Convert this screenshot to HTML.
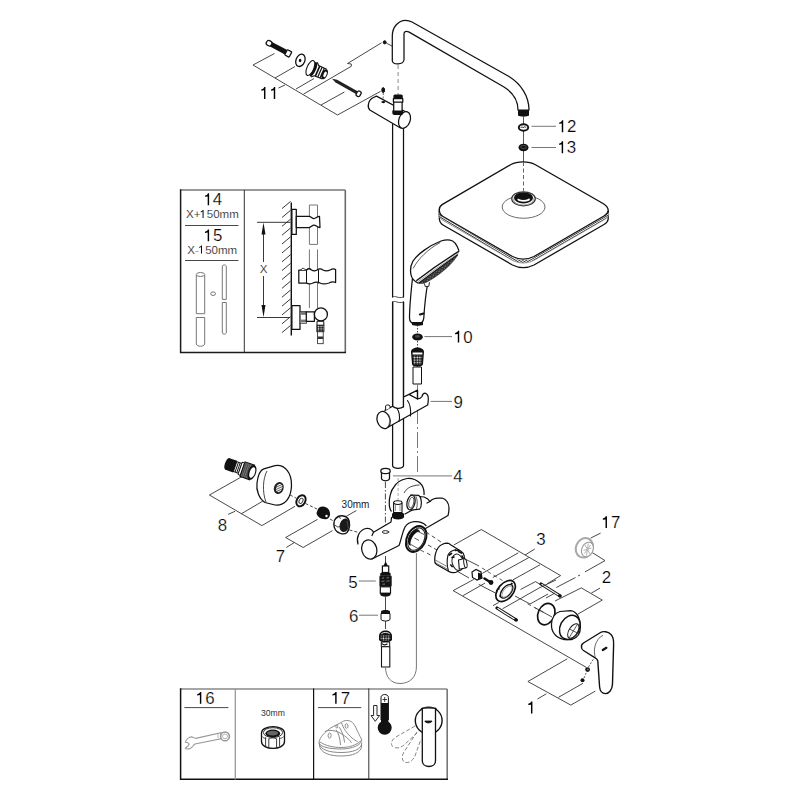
<!DOCTYPE html>
<html><head><meta charset="utf-8"><style>
html,body{margin:0;padding:0;background:#fff;width:800px;height:800px;overflow:hidden}
svg{display:block}
text{font-family:"Liberation Sans",sans-serif;fill:#000;stroke:#fff;stroke-width:0.22px}
.k{fill:none;stroke:#111;stroke-width:1.25;stroke-linejoin:round;stroke-linecap:round}
.kw{fill:#fff;stroke:#111;stroke-width:1.25;stroke-linejoin:round}
.t{fill:none;stroke:#333;stroke-width:0.9}
.g{fill:none;stroke:#777;stroke-width:1}
.gw{fill:#fff;stroke:#888;stroke-width:1}
.d{fill:none;stroke:#666;stroke-width:1;stroke-dasharray:4 3}
.blk{fill:#111;stroke:#111;stroke-width:1}
.lbl{font-size:16.9px}
</style></head><body>
<svg width="800" height="800" viewBox="0 0 800 800">
<defs>
<pattern id="knurl" width="2.6" height="2.6" patternUnits="userSpaceOnUse"><rect width="2.6" height="2.6" fill="#111"/><circle cx="1.3" cy="1.3" r="0.85" fill="#fff"/></pattern>
<pattern id="hatch2" width="2" height="2" patternUnits="userSpaceOnUse" patternTransform="rotate(45)"><rect width="2" height="2" fill="#fff"/><rect width="0.9" height="2" fill="#555"/></pattern>
<pattern id="nozz" width="2.4" height="2.4" patternUnits="userSpaceOnUse" patternTransform="rotate(30)"><rect width="2.4" height="2.4" fill="#1a1a1a"/><circle cx="1.2" cy="1.2" r="0.55" fill="#fff"/></pattern>
<pattern id="hatchB" width="1.7" height="1.7" patternUnits="userSpaceOnUse" patternTransform="rotate(60)"><rect width="1.7" height="1.7" fill="#fff"/><rect width="0.85" height="1.7" fill="#333"/></pattern>
<pattern id="nozz2" width="2.4" height="2.4" patternUnits="userSpaceOnUse" patternTransform="rotate(35)"><rect width="2.4" height="2.4" fill="#fff"/><path d="M0.2,0.2 L2.2,2.2 M2.2,0.2 L0.2,2.2" stroke="#111" stroke-width="1.05"/></pattern>
</defs>
<!-- ===== item 11 brackets ===== -->
<g id="i11">
<path class="t" d="M253,65 L274.5,53.5 M253,65 L337.5,115 L380.6,91.3 M275,78 L295,66.5 M296,89 L314,78.5 M321,105 L344.4,92 M278.5,88 L285,85"/>
<path class="t" d="M303.5,94.1 L351.3,66.3 L351.3,64 L347.5,63.5 L381.5,42.8"/>
<path class="t" d="M386.3,43.1 L392.5,46.3"/>
<ellipse class="blk" cx="384.7" cy="42.3" rx="1.4" ry="1.6"/>
<!-- screw 1 -->
<g transform="translate(279,48.5) rotate(28)">
<rect x="-12" y="-2.5" width="20" height="5" fill="#111"/>
<rect x="-14" y="-2.5" width="5.5" height="5" rx="2" class="kw"/>
<rect x="8" y="-3" width="5" height="6" rx="0.8" class="kw"/>
</g>
<!-- washer -->
<ellipse cx="300.4" cy="60.3" rx="4.4" ry="6.4" transform="rotate(22 300.4 60.3)" class="kw" style="stroke-width:1.3"/>
<ellipse cx="300.1" cy="60.5" rx="1.3" ry="1.8" fill="#111"/>
<!-- fitting -->
<g transform="translate(310.4,68) rotate(23.6)">
<path d="M0,-8 L4,-8 L6,-5.5 L15.5,-5.3 L15.5,5.3 L6,5.5 L4,8 L0,8 Z" fill="#fff"/>
<path d="M4,-8 L6.5,-5.6 L15.5,-5.3 M4,8 L6.5,5.6 L15.5,5.3" fill="none" stroke="#111" stroke-width="1.1"/>
<ellipse cx="3.2" cy="0" rx="2.6" ry="7.8" fill="#111"/>
<ellipse cx="0" cy="0" rx="3.4" ry="8" fill="#fff" stroke="#111" stroke-width="1.1"/>
<rect x="7" y="-5.5" width="1.6" height="11" fill="#111"/>
<rect x="9.8" y="-5.4" width="1.2" height="10.8" fill="#111"/>
<rect x="12.2" y="-5.4" width="1.2" height="10.8" fill="#111"/>
<ellipse cx="15.5" cy="0" rx="2.9" ry="5.3" fill="#111"/>
<ellipse cx="16" cy="0" rx="1.4" ry="3" fill="#fff"/>
</g>
<!-- long screw -->
<g transform="translate(332,78.7) rotate(29.5)">
<path d="M0,0 L5,-1.6 L29,-1.6 L29,1.6 L5,1.6 Z" fill="#222"/>
<rect x="28.5" y="-2.8" width="4.2" height="5.6" rx="1.8" class="kw"/>
</g>
<!-- dot + bracket screw -->
<ellipse class="blk" cx="383.2" cy="90.1" rx="1.4" ry="2.5"/>
<path class="d" d="M383.2,93 V99.5" style="stroke-dasharray:2 1.5"/>
<text class="lbl" x="261" y="99"><tspan style="fill:none;stroke:none">1</tspan><tspan style="fill:none;stroke:none">1</tspan></text><path d="M263.98,99.00 265.42,99.00 265.42,87.09 264.24,87.09 263.47,88.44 261.28,89.45 261.28,90.63 263.98,90.30 Z" fill="#000"/><path d="M273.78,99.00 275.22,99.00 275.22,87.09 274.04,87.09 273.27,88.44 271.08,89.45 271.08,90.63 273.78,90.30 Z" fill="#000"/>
</g>

<!-- ===== gooseneck ===== -->
<g id="goose">
<path class="kw" d="M392.3,61 V36 C392.3,27 398.5,20.3 405.5,20.3 C408,20.3 410,20.9 412,22 L509,76.5 C521,84 529,96 529,110 L518,110 C518,100 512,92 504,87 L408.7,31.9 C406,31 404,31.5 404,34 V60 C403,65 393,65 392.3,61 Z"/>
<path d="M518,110 H529 V115.5 C527,117 520,117 518,115.5 Z" fill="#111"/>
<path class="d" d="M398.1,65 V95" style="stroke:#888"/>
<path d="M523.5,116.5 V162" stroke="#444" stroke-width="0.9"/>
</g>

<!-- ===== rail ===== -->
<g id="rail">
<path class="k" d="M392.6,124 V297 M403.5,128 V297 M392.6,302 V466 C394,469 402,469 403.5,466 V302"/>
<path class="t" d="M392.6,297 C395,295 398,299 403.5,297 M392.6,302 C395,300 398,304 403.5,302"/>
</g>

<!-- ===== bracket cylinder ===== -->
<g id="brk">
<path class="kw" d="M376.5,96.1 L406.5,112.3 L400.5,128 L369.8,110 C367,107 368,100 373.5,97.5 Z"/>
<ellipse cx="404.5" cy="120" rx="5.6" ry="8.6" transform="rotate(20 404.5 120)" class="kw"/>
<ellipse cx="383.3" cy="102.1" rx="2" ry="1.1" fill="#111"/>
<!-- connector -->
<rect x="392.3" y="109.5" width="10.8" height="5.5" rx="2" fill="#111"/>
<rect x="393.7" y="101" width="8.4" height="10" class="kw"/>
<rect x="393.4" y="98.5" width="9.4" height="3.5" class="kw"/>
<rect x="393.4" y="94.6" width="9.4" height="4.5" rx="1.5" fill="#111"/>
</g>

<!-- ===== washers 12 13 ===== -->
<g id="w1213">
<ellipse cx="523.5" cy="127.5" rx="4.7" ry="3.2" fill="#fff" stroke="#111" stroke-width="1.9"/>
<path d="M520.8,127.8 C521.5,126.5 522.5,126.5 523.2,127.8 C524,126.5 525,126.5 526.2,127.6" fill="none" stroke="#222" stroke-width="1"/>
<ellipse cx="523.5" cy="147.5" rx="5" ry="3.8" fill="#111"/>
<ellipse cx="523.5" cy="147" rx="2.8" ry="1.6" fill="none" stroke="#666" stroke-width="0.7"/>
<path class="g" d="M531.5,126.3 H556 M531.5,147.5 H556"/>
<text class="lbl" x="557.7" y="132.2"><tspan style="fill:none;stroke:none">1</tspan>2</text><path d="M561.78,132.20 563.22,132.20 563.22,120.29 562.04,120.29 561.27,121.64 559.08,122.65 559.08,123.83 561.78,123.50 Z" fill="#000"/>
<text class="lbl" x="557.25" y="153.2"><tspan style="fill:none;stroke:none">1</tspan>3</text><path d="M561.68,153.20 563.12,153.20 563.12,141.29 561.94,141.29 561.17,142.64 558.98,143.65 558.98,144.83 561.68,144.50 Z" fill="#000"/>
</g>

<!-- ===== shower head ===== -->
<g id="head">
<path fill="#fff" d="M439.3,209.5 L442.5,204.3 L511,164.5 C517,161 529,161 535,164.5 L603,203.5 L608.2,210.5 V219 L604,224.5 L534,265 C527,268.5 519.5,268.5 512.5,265 L443,225 L439.3,218 Z"/>
<path d="M439.3,209.5 C439.3,212.5 440.5,215 443,216.5 L512.5,256.5 C519.5,260 527,260 534,256.5 L604,216 C606.5,214.5 608,213 608.2,210.5" transform="translate(0,8.5)" fill="none" stroke="#111" stroke-width="1.3"/>
<path d="M439.3,209.5 V218 M608.2,210.5 V219" fill="none" stroke="#111" stroke-width="1.3"/>
<path d="M439.3,209.5 C439.3,212.5 440.5,215 443,216.5 L512.5,256.5 C519.5,260 527,260 534,256.5 L604,216 C606.5,214.5 608,213 608.2,210.5" transform="translate(0,2.4)" fill="none" stroke="url(#hatchB)" stroke-width="2.6"/>
<path d="M439.3,209.5 C439.3,212.5 440.5,215 443,216.5 L512.5,256.5 C519.5,260 527,260 534,256.5 L604,216 C606.5,214.5 608,213 608.2,210.5" transform="translate(0,3.9)" fill="none" stroke="#666" stroke-width="0.6"/>
<path fill="#fff" stroke="#111" stroke-width="1.35" d="M439.3,209.5 C439.3,207 440.5,205.5 442.5,204.3 L511,164.5 C517,161 529,161 535,164.5 L603,203.5 C607,206 608.3,208 608.2,210.5 C608,213 606.5,214.5 604,216 L534,256.5 C527,260 519.5,260 512.5,256.5 L443,216.5 C440.5,215 439.3,212.5 439.3,209.5 Z"/>
<path d="M523.5,162 V191" stroke="#555" stroke-width="0.9" stroke-dasharray="4 2.5"/>
<ellipse cx="523.6" cy="207" rx="21.4" ry="11.25" fill="none" stroke="#444" stroke-width="0.8"/>
<ellipse cx="523.5" cy="198.8" rx="11.8" ry="7" fill="#fff" stroke="#333" stroke-width="1.2"/>
<ellipse cx="523.5" cy="199.6" rx="10" ry="5.4" fill="none" stroke="#888" stroke-width="0.8"/>
<ellipse cx="523.5" cy="197.8" rx="9.5" ry="5.6" fill="#111"/>
<ellipse cx="523.7" cy="199.4" rx="6.2" ry="2.4" fill="#fff"/>
<ellipse cx="523.5" cy="196.6" rx="6.6" ry="3.4" fill="#111"/>
</g>

<!-- ===== hand shower ===== -->
<g id="hand">
<path class="kw" d="M412.5,278 C411,292 409.5,306 409.5,318 C409.5,322.5 412,324 416.5,324 C421,324 423.5,322.5 423.8,318 C424.5,306 425.5,296 427.5,284.5"/>
<path fill="#fff" d="M410.6,270.3 C411,264 414,259 418,255 C425,249 433,244 441,241 C444,240 447,240 450,240.1 C453.5,240.5 457,245 459,250.8 L459.8,253 C457,260 450,267 441,273 C434,278 428,282 423.75,283.5 L418.5,283.5 C415,282 412,279 411,275 Z"/>
<path d="M418.5,283.3 C414.5,281.5 411.5,278 410.8,274 C410.2,270 410.8,265 413,261 C417,255 428,246 441,241 C444.5,240 447.5,239.8 450,240.1 C453.5,240.5 457,245 459,250.8" fill="none" stroke="#111" stroke-width="1.3"/>
<path d="M413.2,268.4 C418,259 428,249 440.3,242.5" fill="none" stroke="#333" stroke-width="0.8"/>
<path d="M457.8,254.8 Q438.5,268.7 419,283.4 L423.8,283.3 C428,281.8 434,278 441,272.7 C447,268 453,262.5 457.8,255 Z" fill="url(#nozz2)" stroke="#222" stroke-width="0.6"/>
<path d="M459.2,251.1 Q437.5,264.5 416.3,280.8" fill="none" stroke="#111" stroke-width="1.3"/>
<path d="M458.7,253 Q438,267 417.4,282" fill="none" stroke="#888" stroke-width="0.8"/>
<path d="M457.8,254.6 Q438,268.5 418.6,283.2" fill="none" stroke="#111" stroke-width="1.1"/>
<path d="M424.3,283.4 L425.3,286.6 L428.8,286.3 L429.5,282.2" fill="#fff" stroke="#111" stroke-width="0.9"/>
<path d="M412,322 H423 V325 C420,326 415,326 412,325 Z" fill="#111"/>
<path d="M420,314.5 L423.5,313.5" stroke="#111" stroke-width="2.2" stroke-linecap="round"/>
</g>

<!-- ===== hose connector 10 ===== -->
<g id="i10">
<path class="t" d="M417.5,325 V333 M417.5,341 V348" style="stroke-dasharray:1.5 1.5"/>
<ellipse cx="417.5" cy="337" rx="5.4" ry="3.5" fill="#111"/>
<ellipse cx="417.5" cy="336.4" rx="2.6" ry="1.4" fill="#444"/>
<path class="g" d="M424.4,336.6 H452"/>
<text class="lbl" x="453.75" y="342.6"><tspan style="fill:none;stroke:none">1</tspan>0</text><path d="M457.78,342.60 459.22,342.60 459.22,330.69 458.04,330.69 457.27,332.04 455.08,333.05 455.08,334.23 457.78,333.90 Z" fill="#000"/>
<path d="M411,352 C411,346 424,346 424,352 L423,364 C423,367.5 412,367.5 412,364 Z" fill="#111"/>
<path d="M412.6,352.5 H422.4 V354.5 H412.6 Z" fill="#fff"/>
<path d="M412.8,355.5 H422.2 L421.6,364.5 H413.4 Z" fill="url(#knurl)"/>
<rect x="413" y="367" width="8.5" height="17" class="kw" style="stroke-width:1"/>
<path d="M417.5,384 V472" stroke="#777" stroke-width="1" stroke-dasharray="16 3 2 3"/>
</g>

<!-- ===== slider 9 ===== -->
<g id="i9">
<path fill="#fff" stroke="none" d="M385,410.4 L392.6,406.2 C395,408.5 400,409.5 403.5,406.8 L403.6,397 L422.5,394.4 L425.6,393.3 L428,398.7 L428,403.8 L385.3,428.7 Z"/>
<path class="k" d="M385,410.4 L392.6,406.2 C395,408.5 400,409.5 403.5,406.8 M403.6,397 L408.5,394.6 M417.5,398.8 C419,398.8 421,398.2 422,396.5 C422.5,394.5 424,393 425.6,393.3 C427.5,394 428.5,397 428.3,400 C428.2,402 428,403.5 427.6,405 L385.3,428.7"/>
<path class="k" d="M392.6,302 V406.2 M403.5,302 V406.8" style="stroke-width:1.25"/>
<path d="M409,394.3 L417.5,390.2 L417.5,399 Z" fill="#fff" stroke="#111" stroke-width="1.4" stroke-linejoin="round"/>
<path class="k" d="M397,408.5 C399.5,412 400,417 399,421.5 M407.5,400.5 C410,404 411,410 410.5,416" style="stroke-width:1.1"/>
<ellipse cx="383.6" cy="420" rx="6.4" ry="8.7" transform="rotate(-18 383.6 420)" class="kw"/>
<path d="M388,414 C390,417 390,422 388.5,426" fill="none" stroke="#555" stroke-width="0.6"/>
<path class="kw" d="M385.6,410 V406 C385.6,404.6 390,404.6 390,406 V408" style="stroke-width:1"/>
<path class="g" d="M430.5,401.4 H452"/>
<text class="lbl" x="453.4" y="407.9">9</text>
</g>

<!-- ===== box 14/15 ===== -->
<g id="box1">
<path d="M180.6,190 H345.3" stroke="#777" stroke-width="1.6"/>
<path d="M345.3,190 V352.4" stroke="#6a6a6a" stroke-width="1.6"/>
<path d="M180.6,189.3 V352.4 H346" stroke="#1a1a1a" stroke-width="1.5" fill="none"/>
<path d="M244.3,190 V352.5" stroke="#333" stroke-width="1"/>
<text class="lbl" x="203.35" y="205.2"><tspan style="fill:none;stroke:none">1</tspan>4</text><path d="M207.68,205.20 209.12,205.20 209.12,193.29 207.94,193.29 207.17,194.64 204.98,195.65 204.98,196.83 207.68,196.50 Z" fill="#000"/>
<text x="186" y="218" style="font-size:11.5px">X+<tspan style="fill:none;stroke:none">1</tspan>50mm</text><path d="M202.57,218.00 203.55,218.00 203.55,209.89 202.80,209.89 202.28,210.75 200.79,211.62 200.79,212.48 202.57,211.50 Z" fill="#000"/>
<path d="M185,225.5 H238.5 M185,260.5 H238.5" stroke="#333" stroke-width="0.9"/>
<text class="lbl" x="203.6" y="241.3"><tspan style="fill:none;stroke:none">1</tspan>5</text><path d="M207.68,241.30 209.12,241.30 209.12,229.39 207.94,229.39 207.17,230.74 204.98,231.75 204.98,232.93 207.68,232.60 Z" fill="#000"/>
<text x="187.3" y="253.5" style="font-size:11.5px">X-<tspan style="fill:none;stroke:none">1</tspan>50mm</text><path d="M200.99,253.50 201.96,253.50 201.96,245.39 201.22,245.39 200.70,246.25 199.20,247.12 199.20,247.98 200.99,247.00 Z" fill="#000"/>
<!-- tubes -->
<path class="g" d="M196.3,275 V313.7 H204.7 V275 M196.3,317.5 V344 C197,347 204,347 204.7,344 V317.5 Z"/>
<ellipse cx="200.5" cy="274.5" rx="4.2" ry="2" class="g"/>
<ellipse cx="213.1" cy="293.7" rx="2.4" ry="1.8" class="g"/>
<path class="g" d="M222.3,299.4 V266 C223,264.5 225.5,264.5 226.3,266 V299.4 Z M222.3,302.5 V333 C223,334.5 225.5,334.5 226.3,333 V302.5 Z"/>
<!-- wall -->
<path d="M291.3,202.5 V335.6" stroke="#111" stroke-width="1.4"/>
<path id="hatch" stroke="#222" stroke-width="0.9" d="M282,208.6 L290.6,201.4 M282,217.5 L290.6,210.3 M282,226.3 L290.6,219.1 M282,235.2 L290.6,228.0 M282,244.0 L290.6,236.8 M282,252.9 L290.6,245.7 M282,261.8 L290.6,254.6 M282,270.6 L290.6,263.4 M282,279.5 L290.6,272.3 M282,288.3 L290.6,281.1 M282,297.2 L290.6,290.0 M282,306.1 L290.6,298.9 M282,314.9 L290.6,307.7 M282,323.8 L290.6,316.6 M282,332.6 L290.6,325.4"/>
<!-- dimension -->
<path d="M257,222.3 H290.5 M257,317.5 H290 M263.5,234 V262 M263.5,276 V305" stroke="#222" stroke-width="0.9"/>
<path d="M263.5,222.5 L261.5,234.5 H265.5 Z M263.5,317.3 L261.5,305 H265.5 Z" fill="#111"/>
<text x="259.8" y="273.2" style="font-size:11.5px">X</text>
<!-- rail behind -->
<path class="g" d="M309.4,205 V244.4 H317.5 V205 Z M309.4,249.4 V308 M317.5,249.4 V308"/>
<!-- top bracket -->
<rect x="291.9" y="209.4" width="4.4" height="25" class="kw"/>
<path class="kw" d="M296.3,216.3 H309 C311,216.3 312,218.5 314,218.5 C316,218.5 317,216.3 319.5,216.3 L320,227.5 C317,227.5 316,225 314,225 C312,225 311,227.5 309,227.5 H296.3 Z"/>
<!-- slider -->
<path class="kw" d="M298.8,270 H306.5 C308,268.5 310,268.5 311.5,270 C313,271 315.5,271 317,270 C319,268.5 321,268.5 323,270 C325,271 328,271 330,270 C332,269 334,268.5 335.6,269.5 V282.5 C333,281.5 331,282 329,283 C326,284 322,284 320,283 C318,282 315,282 313,283 C311,284 308,284 306.5,283 H298.8 Z"/>
<path class="k" d="M306.5,270 V283 M318.5,270 V283" style="stroke-width:1"/>
<path d="M301.2,270 C301.2,267.8 305,267.8 305.2,270" fill="#fff" stroke="#111" stroke-width="0.9"/>
<!-- bottom mixer -->
<rect x="291.9" y="305.6" width="8.1" height="23.8" class="kw"/>
<rect x="300.2" y="311.4" width="6.2" height="11.9" fill="#fff" stroke="#333" stroke-width="0.8"/>
<rect x="300.6" y="312" width="5.4" height="2.8" fill="#777"/>
<rect x="300.6" y="319.6" width="5.4" height="2.8" fill="#777"/>
<rect x="306.3" y="311.9" width="8.1" height="9.4" class="kw"/>
<circle cx="320.9" cy="314.4" r="6.5" class="kw"/>
<rect x="317" y="321.3" width="6.8" height="4" class="kw" style="stroke-width:1"/>
<rect x="316.8" y="325.3" width="7.2" height="6.5" fill="url(#knurl)" stroke="#222" stroke-width="0.8"/>
<rect x="317.6" y="331.8" width="5.6" height="11.9" fill="#fff" stroke="#222" stroke-width="0.8"/>
<rect x="317.6" y="336.5" width="5.6" height="2.5" fill="#333"/>
</g>
<!-- ===== item 4 cap ===== -->
<g id="i4">
<path class="g" d="M393,475.9 H452"/>
<text class="lbl" x="453.35" y="482">4</text>
<path class="kw" d="M381.5,471 V478.5 C382,481.5 389,481.5 389.5,478.5 V471"/>
<ellipse cx="385.5" cy="471" rx="4.7" ry="2.7" class="kw"/>
<path class="t" d="M385.4,482 V529" style="stroke-dasharray:6 2 1.5 2"/>
</g>

<!-- ===== mixer body ===== -->
<g id="mixer">
<!-- wall disc -->
<path fill="#fff" d="M389.5,506 C389,498 391,490 394,487 C396,483 400,480 407,478.5 C411,478 416,479.5 420,483 C423,486 424.5,490 424,494 L416,509 L395,515 Z"/>
<path fill="none" stroke="#111" stroke-width="1.25" d="M391.5,511.5 C389.5,509 389.2,507 389.3,504 C389,498 391,490 394,487 C396,483 400,480 407,478.5 C411,478 416,479.5 420,483 C423,486 424.5,490 424,495"/>
<path class="t" d="M404,493 C406,489 410,486.5 413,486 C415,485.3 417,485 419.5,485"/>
<path d="M398.1,478 V500" stroke="#aaa" stroke-width="1" stroke-dasharray="3 2"/>
<!-- body fill -->
<path fill="#fff" d="M358,538 L361,531 L366,528.5 L371,529.5 L373.5,532 L391,522 L391.5,517 L404,514 L416,508 L415,496 L424,497 L442,498 L449,507 L448,515.5 L425,529 L426.5,539 L420,552 L406,552 L399,545.5 L372,559 L362,556 Z"/>
<!-- upper body -->
<path class="k" d="M405,514 L416,508 M415,496 L424,497 C427,498 429,500 430,501.5 C432,499 435,498 438,498 L442,498 C446,499 449,503 449,508 C449,512 448.5,514 448,515.5 L425.5,528.5 M427,503 L430,501.5"/>
<!-- union nut -->
<path d="M411,495 L418.5,495.4 C421.8,497 422.3,506 419.6,509.2 L411.5,510 Z" fill="#fff" stroke="#111" stroke-width="1.2"/>
<path d="M415.2,495.3 C417.5,498 418,506 416,509.6" fill="none" stroke="#333" stroke-width="0.8"/>
<ellipse cx="411" cy="502.5" rx="3.9" ry="7.4" transform="rotate(12 411 502.5)" class="kw"/>
<ellipse cx="411.3" cy="502.6" rx="2.4" ry="5.4" transform="rotate(12 411.3 502.6)" fill="none" stroke="#333" stroke-width="0.8"/>
<!-- lower bar -->
<path class="k" d="M358,544 C356,538 359,530 366,528.5 C369.5,528 372.5,530 373.5,532.3 L372,535.5 M373.5,532.3 L391,522 L391.5,517.5 M372,559 L399,545.5 C401,541 402,533 405,527 C407,524 410,522.2 414,521.7 C419,521.2 423,522.5 426,525.5"/>
<ellipse cx="369.3" cy="549.5" rx="7.5" ry="9.7" transform="rotate(-15 369.3 549.5)" class="kw"/>
<ellipse cx="416.2" cy="539" rx="9.3" ry="13.6" transform="rotate(27 416.2 539)" class="kw" style="stroke-width:2"/>
<ellipse cx="416.4" cy="539.2" rx="7.6" ry="11.8" transform="rotate(27 416.4 539.2)" fill="none" stroke="#222" stroke-width="1"/>
<ellipse cx="414.2" cy="537.6" rx="5.2" ry="9.2" transform="rotate(27 414.2 537.6)" fill="#111"/>
<ellipse cx="416.4" cy="540.2" rx="5" ry="9.2" transform="rotate(27 416.4 540.2)" fill="#fff"/>
<path d="M417,531 L424,534.5 M414.5,538 L419,540.5 M410,544 L424,552" stroke="#333" stroke-width="0.8"/>
<!-- hole for cap 4 -->
<ellipse cx="385.5" cy="532" rx="3.2" ry="1.4" class="k" style="stroke-width:0.9"/>
<!-- top connector -->
<path d="M392,514 C392,512 404,512 404,514 V517.5 C402,520 394,520 392,517.5 Z" fill="#111"/>
<rect x="393.6" y="503" width="8.4" height="9.6" class="kw" style="stroke-width:1.1"/>
<ellipse cx="397.8" cy="502.6" rx="4.2" ry="1.9" class="kw" style="stroke-width:1.1"/>
<path d="M395.5,504.5 V511 M400,504.5 V511" stroke="#555" stroke-width="0.6"/>
</g>

<!-- ===== item 8 ===== -->
<g id="i8">
<path class="t" d="M209.4,495 L242.5,476.3 M209.4,495 L261.9,525.6 L295,506.3 M241.3,513.8 L262.5,501.3 M228.1,514.4 L235,511.3"/>
<!-- union -->
<g transform="translate(227.5,464) rotate(19)">
<rect x="0" y="-6.2" width="8" height="12.4" fill="#111"/>
<ellipse cx="0" cy="0" rx="2.6" ry="6.2" fill="#111"/>
<path d="M8,-5.2 H13.5 V5.2 H8 Z" fill="#fff" stroke="#111" stroke-width="1"/>
<path d="M9.8,-5.2 V5.2 M11.6,-5.2 V5.2" stroke="#111" stroke-width="0.9"/>
<rect x="13.3" y="-6.6" width="2.6" height="13.2" rx="1" fill="#fff" stroke="#111" stroke-width="1"/>
<rect x="15.9" y="-7.7" width="10" height="15.4" fill="#777" stroke="#111" stroke-width="1.1"/>
<path d="M17.5,-7.5 V7.5 M19.5,-7.5 V7.5 M21.5,-7.5 V7.5 M23.5,-7.5 V7.5" stroke="#333" stroke-width="0.7"/>
<ellipse cx="25.9" cy="0" rx="4" ry="7.7" fill="#111"/>
<ellipse cx="26.2" cy="0" rx="2.6" ry="5.6" fill="#fff"/>
</g>
<!-- escutcheon -->
<path class="kw" d="M263.8,468.8 L275,465.6 C285,464 292,473 291.5,486 C291,498 285,506 275,505 L265,502.5 C259,499 256,490 257,483 C258,475 260,470 263.8,468.8 Z"/>
<path class="t" d="M267,471 C263,478 262,492 266,502"/>
<ellipse cx="278.8" cy="488" rx="4.8" ry="6.2" transform="rotate(20 278.8 488)" fill="#222"/>
<ellipse cx="279.2" cy="488" rx="3" ry="4.3" transform="rotate(20 279.2 488)" fill="url(#hatch2)"/>
<!-- washer -->
<ellipse cx="301" cy="500.8" rx="4.2" ry="5.9" transform="rotate(30 301 500.8)" fill="#fff" stroke="#111" stroke-width="1.9"/>
<ellipse cx="301" cy="500.8" rx="1.8" ry="2.8" transform="rotate(30 301 500.8)" class="t"/>
<path class="t" d="M290,495 L296.5,498.3 M305.5,503.5 L317,509" style="stroke-dasharray:3 2"/>
<text class="lbl" x="217.7" y="531.2">8</text>
</g>

<!-- ===== item 7 ===== -->
<g id="i7">
<path class="t" d="M285.6,537.5 L317.5,519.4 M285.6,537.5 L303.1,547.5 L332.5,530.6 M286.3,547.5 L294.4,542.5 M346.3,516.3 L356.3,510.6"/>
<path class="t" d="M330,519 L333.5,521 M349.5,530 L358.8,532.5" style="stroke-dasharray:3 2"/>
<path d="M318,509 C320,505 327,506 329,510 C331,514 330,518 327,519 C322,520 317,517 316.5,513 Z" fill="#111"/>
<circle cx="326.5" cy="516" r="1.2" fill="#fff"/>
<path class="kw" d="M336,518 C339,515 345,515 348,518.5 C350.5,522 350,529 347,532.5 C344,535 338,534 335.5,530 C333,526 333.5,520.5 336,518 Z" style="stroke-width:1.4"/>
<ellipse cx="344.6" cy="525.3" rx="4.9" ry="6.9" transform="rotate(18 344.6 525.3)" fill="#1a1a1a"/>
<path d="M347,521 L348.5,528" stroke="#555" stroke-width="0.8"/>
<path d="M335,519.5 L338.5,517 L341,518.5 M334.5,525 L337.8,527 L340.5,526.5 M336.5,531 L339.5,532.5" fill="none" stroke="#222" stroke-width="0.8"/>
<text class="lbl" x="275.7" y="562.3">7</text>
<text x="341.6" y="507.6" style="font-size:10px;stroke:none;fill:#222">30mm</text>
</g>

<!-- ===== items 5 6 hose ===== -->
<g id="i56">
<path class="t" d="M385.5,556 V562" />
<path d="M383.2,566.6 L385.6,561.3 L388.2,566.6 Z" fill="#111"/>
<rect x="382.4" y="566" width="6.3" height="6.5" fill="#fff" stroke="#111" stroke-width="1.2"/>
<path d="M380.2,573.5 C380.2,571.8 390.6,571.8 390.6,573.5 V575.6 H380.2 Z" fill="#111"/>
<rect x="379.4" y="575.2" width="12.3" height="11.6" rx="1.5" fill="#151515"/>
<path d="M382,578.3 L384,577.8 M386.5,578 L389,577.6 M381.5,581.5 L384.5,581 M386.5,581.2 L389.5,580.8 M382.5,584.3 L385,584" stroke="#bbb" stroke-width="0.6"/>
<rect x="380.3" y="586.8" width="10.2" height="6.4" fill="#fff" stroke="#111" stroke-width="1.2"/>
<path d="M380.3,593 H390.5 V595 C388.5,597.3 382.3,597.3 380.3,595 Z" fill="#111"/>
<path class="t" d="M385.5,597 V610"/>
<path class="g" d="M358.7,581 H375.8"/>
<text class="lbl" x="348.15" y="588.3">5</text>
<path d="M381,611.5 C381,609.5 390,609.5 390,611.5 V613.5 H381 Z" fill="#111"/>
<path class="kw" d="M381,613.5 H390 V619.5 C388,621.5 383,621.5 381,619.5 Z" style="stroke-width:1"/>
<path class="g" d="M359,615.2 H378"/>
<text class="lbl" x="348.9" y="622.3">6</text>
<path class="t" d="M385.5,621 V629"/>
<path d="M379,636 C379,628.5 392,628.5 392,636 V640 C390,643 381,643 379,640 Z" fill="#111"/>
<path d="M381.3,633.8 C383.5,632 387.5,632 389.7,633.8" fill="none" stroke="#fff" stroke-width="0.9"/>
<path d="M380.6,635.5 H390.4 V639.6 C388.5,641.2 382.5,641.2 380.6,639.6 Z" fill="url(#knurl)"/>
<path d="M381.3,642 H389.7 V646.8 H381.3 Z" fill="#fff" stroke="#111" stroke-width="1"/>
<path d="M382,643.5 C383.5,645.5 386,645 387.5,643.8" fill="none" stroke="#111" stroke-width="1.1"/>
<rect x="381.5" y="646.8" width="8.3" height="20.2" class="kw" style="stroke-width:1.1"/>
<path class="g" d="M385.5,667.2 C385.5,677 391,683.5 400,683.5 C410,683.5 416.4,677 416.4,667 V553" style="stroke:#777"/>
</g>

<!-- ===== item 3 group ===== -->
<g id="i3">
<!-- dashed axis lines from outlet -->
<path d="M426,532 L441,542 M428,545 L437,550 M427,553 L432,556" stroke="#333" stroke-width="0.9" stroke-dasharray="4 3"/>
<!-- brackets -->
<path class="t" d="M453.8,545 L481.3,529.5 L560.6,575.6 L547.3,583.7 M482.3,573.4 L518.3,552.8 M492.8,577.5 L528.8,557.6 M513,579.8 L540,564.8 M525,555 L534.8,549"/>
<path class="t" d="M453.1,590.6 L473.8,579.4 M453.1,590.6 L586.5,667.5 M463.1,595.6 L485,583.1 M502.5,608.8 L540,587.5 M493,605.6 L498.8,602.5"/>
<path class="t" d="M463,558 L479,566 M455,570 L469,578 M478.8,584.4 L495.6,593.1 M515,596 L530,604 M520.5,589.5 L535.5,581.6 L540,584.3" />
<path d="M482,568 L487,571 M487.5,571.5 L502.5,580.5 M527.5,603.8 L545,613" stroke="#333" stroke-width="0.8" stroke-dasharray="4 3"/>
<!-- cartridge -->
<path class="kw" d="M442,544.5 C444,543.5 446,543.2 447.5,543.2 C448.8,543.3 449.5,543.8 450.2,544.5 L461,551.3 C463,552.5 464,554 464.2,556 L464.6,563 C464.6,567 460.5,571 455.5,572.5 L453.5,572.7 C451,572.7 449.5,572 448.5,571.3 L436.5,564.5 C434.8,563 434.5,561 434.7,559.5 C434.8,555 436,551 438,548 C439,546.5 440.5,545.2 442,544.5 Z"/>
<path d="M456,549.5 C452,550.5 449,552.5 448,555 C447,559 447,566 448.5,571.3" fill="none" stroke="#111" stroke-width="1.1"/>
<path d="M435.3,560 L448,567 M435.8,563 L448.3,569.6" stroke="#444" stroke-width="0.7"/>
<ellipse cx="457.8" cy="562.3" rx="5.6" ry="8.4" transform="rotate(-15 457.8 562.3)" fill="#fff" stroke="#222" stroke-width="1"/>
<path d="M449.3,555 L451.5,553.5 M455.5,550.5 L458.5,550 M458.5,551.5 L461.5,553 M452,557.5 L454,557 M450.8,565 L452.2,566.5 M462,556 L463.2,558.5" stroke="#111" stroke-width="1.7" stroke-linecap="round"/>
<path class="kw" d="M458.5,560 L464.2,558.5 C466.5,559.7 467,566 465.3,568 L459.3,569.3 Z" style="stroke-width:1.1"/>
<ellipse cx="465.4" cy="563.3" rx="1.5" ry="4.6" transform="rotate(-10 465.4 563.3)" fill="#fff" stroke="#111" stroke-width="1"/>
<!-- hex -->
<path d="M472,572 L476,569.5 L481,572 L482,578 L477,580 L472.5,577.5 Z" fill="#fff" stroke="#111" stroke-width="1.2"/>
<path d="M478,572.5 L482,574 L482,578 L478,579.5 Z" fill="#111"/>
<!-- small screw + ball -->
<path d="M484.5,578.5 L490,582" stroke="#111" stroke-width="2.6" stroke-linecap="round"/>
<circle cx="491" cy="582.5" r="2.4" fill="#111"/>
<!-- ring nut -->
<ellipse cx="505.6" cy="591" rx="7.6" ry="12.2" transform="rotate(40 505.6 591)" class="kw" style="stroke-width:1.7"/>
<ellipse cx="506.6" cy="591.3" rx="4.4" ry="8.2" transform="rotate(40 506.6 591.3)" fill="#fff" stroke="#111" stroke-width="1.3"/>
<ellipse cx="507" cy="591.6" rx="3.3" ry="6.8" transform="rotate(40 507 591.6)" fill="none" stroke="#777" stroke-width="0.7"/>
<path d="M499.5,595.5 L501,597 M511,583 L512.5,584.2 M498,589 L499.5,588.8" stroke="#111" stroke-width="1.6"/>
<!-- long screws -->
<path d="M541,584 L559.5,595.5" stroke="#111" stroke-width="3.2" stroke-linecap="round"/>
<path d="M541.5,584.3 L558.5,595" stroke="#fff" stroke-width="1.2"/>
<circle cx="560" cy="596" r="1.8" fill="#111"/>
<path d="M497,608 L515.5,619.5" stroke="#111" stroke-width="3.2" stroke-linecap="round"/>
<path d="M497.5,608.3 L514.5,619" stroke="#fff" stroke-width="1.2"/>
<circle cx="516.2" cy="620" r="1.8" fill="#111"/>
<text class="lbl" x="536.15" y="544.6">3</text>
</g>

<!-- ===== item 17 and 2 ===== -->
<g id="i2">
<path class="t" d="M591.2,551.9 L605,560.6 L585,571.9 M580,575 L578,576 M575.5,577.5 L556.3,587.5 M590.6,538.1 L600.6,533.1"/>
<g>
<ellipse cx="584.4" cy="547.8" rx="8.4" ry="10" transform="rotate(25 584.4 547.8)" fill="#fff" stroke="#a8a8a8" stroke-width="2"/>
<ellipse cx="587.4" cy="549.5" rx="5.6" ry="7.6" transform="rotate(25 587.4 549.5)" fill="#fff" stroke="#999" stroke-width="1.1"/>
<path d="M585,545 L590,554 M583.5,550.5 L591.5,548 M588.3,543.5 L586.5,555.5 M584.5,553.5 L590.5,545" stroke="#aaa" stroke-width="0.9"/>
<circle cx="587.4" cy="549.5" r="1.2" fill="#bbb"/>
</g>
<text class="lbl" x="601.6" y="528.1"><tspan style="fill:none;stroke:none">1</tspan>7</text><path d="M605.53,528.10 606.97,528.10 606.97,516.19 605.79,516.19 605.02,517.54 602.83,518.55 602.83,519.73 605.53,519.40 Z" fill="#000"/>
<path class="t" d="M555,601 L581.3,587.9 L602.3,600.1 L577.8,614.1 M591.3,593.1 L600,588.1 M540,587.5 L556,580 M546,598 L555,593 M530,604 L548,594"/>
<text class="lbl" x="601.85" y="583.4">2</text>
<!-- o-ring -->
<path d="M535,607.8 L552,617" stroke="#333" stroke-width="0.9"/>
<ellipse cx="546.3" cy="614.1" rx="8.2" ry="11.1" transform="rotate(24 546.3 614.1)" fill="none" stroke="#111" stroke-width="1.7"/>
<!-- sleeve -->
<path class="kw" d="M560,611.5 L570.8,610.6 C576,611.5 580,617 580.4,627 C580.5,633 578,637.5 572,639.5 L563.8,639.5 C556,638 551,632 551.5,624 C552,617 555,613 560,611.5 Z"/>
<ellipse cx="569.8" cy="627.4" rx="9.6" ry="12.6" transform="rotate(28 569.8 627.4)" class="kw" style="stroke-width:1.5"/>
<ellipse cx="573.3" cy="631" rx="4.3" ry="8.2" transform="rotate(32 573.3 631)" fill="#fff" stroke="#222" stroke-width="1"/>
<path d="M577.6,624 L569,638 M569.5,629 L577.3,633" stroke="#333" stroke-width="0.8"/>
</g>

<!-- ===== item 1 handle ===== -->
<g id="i1">
<path class="t" d="M527.9,681.5 L567.3,658.8 M527.9,681.5 L570.8,705.1 L595.3,691.1 M558.5,697.3 L583,683.3 M537.5,699 L546.3,693.8"/>
<path d="M588.5,667 L593.5,659 M584,678 L586.5,672" stroke="#333" stroke-width="0.8" stroke-dasharray="2 1.5"/>
<path class="kw" d="M581.6,647.5 C581,645.5 582,644 583.5,643 L600.5,632.5 C603,631 608,631.5 611,634.5 C613.5,637 613.8,641 613.6,645 L612.5,684 C612.2,690 609,693.6 605.5,693.6 C602,693.6 600,691 599.6,687 L597.8,661 C597.5,659.5 596.5,658.8 595.5,658.2 L583.5,650.5 C581.8,649.5 581.4,648.5 581.6,647.5 Z" style="stroke-width:1.4"/>
<path d="M603,635.3 C599,637 596.5,641 595,646 C594,650 594.2,654 595.5,658.2" fill="none" stroke="#444" stroke-width="0.8"/>
<path d="M602.8,650 L606.4,647.8" stroke="#111" stroke-width="2.2" stroke-linecap="round"/>
<circle cx="587.6" cy="669.6" r="2.4" fill="#111"/>
<circle cx="587.8" cy="669.4" r="1" fill="#666"/>
<circle cx="582.5" cy="680.3" r="2" fill="#111"/>
<text class="lbl" x="527.8" y="713.4"><tspan style="fill:none;stroke:none">1</tspan></text><path d="M530.98,713.40 532.42,713.40 532.42,701.49 531.24,701.49 530.47,702.84 528.28,703.85 528.28,705.03 530.98,704.70 Z" fill="#000"/>
</g>

<!-- ===== bottom box ===== -->
<g id="box2">
<path d="M180.6,689 H447.2" stroke="#888" stroke-width="1.6"/>
<path d="M447.2,689 V779.3" stroke="#777" stroke-width="1.6"/>
<path d="M180.6,688.3 V779.3 H448" stroke="#111" stroke-width="1.5" fill="none"/>
<path d="M235.3,688.4 V779.4" stroke="#999" stroke-width="1.3"/>
<path d="M313.6,688.4 V779.4" stroke="#111" stroke-width="1.2"/>
<path d="M368.8,688.4 V779.4" stroke="#333" stroke-width="1"/>
<text class="lbl" x="195.9" y="703.8"><tspan style="fill:none;stroke:none">1</tspan>6</text><path d="M199.88,703.80 201.32,703.80 201.32,691.89 200.14,691.89 199.37,693.24 197.18,694.25 197.18,695.43 199.88,695.10 Z" fill="#000"/>
<path d="M184.4,707.6 H228.4 M318,707.6 H361.3" stroke="#333" stroke-width="0.9"/>
<text class="lbl" x="331.35" y="703.8"><tspan style="fill:none;stroke:none">1</tspan>7</text><path d="M335.18,703.80 336.62,703.80 336.62,691.89 335.44,691.89 334.67,693.24 332.48,694.25 332.48,695.43 335.18,695.10 Z" fill="#000"/>
<text x="261" y="716.3" style="font-size:8.6px;stroke:none;fill:#333">30mm</text>
<!-- wrench -->
<path d="M185.4,742.3 C186,740 188.5,737.3 191.3,736.9 C193,736.8 194,738.2 195.8,738.4 L221,732.6 L221,738.8 L195,744 C193,745.5 192.5,747.5 190,748.6 C188,749.2 186,749 185.3,748.2 C187,747 188.5,746 189,744.5 C189.2,743.5 188.5,742.6 185.4,742.3 Z" fill="#fff" stroke="#999" stroke-width="1.1"/>
<path d="M218,733.3 V738.3" stroke="#aaa" stroke-width="0.8"/>
<circle cx="225" cy="736.4" r="4.4" fill="#fff" stroke="#999" stroke-width="1.6"/>
<circle cx="225" cy="736.4" r="2.5" fill="none" stroke="#aaa" stroke-width="0.9"/>
<!-- nut -->
<path d="M261.5,733 C261.5,729 267,726.7 273,726.7 C279,726.7 284.5,729 284.5,733 L284.5,741.5 C284.5,746 279,748.4 273,748.4 C267,748.4 261.5,746 261.5,741.5 Z" fill="#fff" stroke="#111" stroke-width="1.3"/>
<ellipse cx="273" cy="732.6" rx="9.6" ry="4.9" fill="#fff" stroke="#222" stroke-width="0.9"/>
<ellipse cx="272.8" cy="733.4" rx="7.4" ry="3.9" fill="#111"/>
<ellipse cx="272.6" cy="733.1" rx="5.6" ry="2.3" fill="#666"/>
<path d="M265.6,737.3 V746.3 M268.8,738.5 V747.9 M276.6,738.5 V747.9 M279.6,737.3 V746.3" stroke="#222" stroke-width="0.9"/>
<path d="M262.3,736.5 C263.5,738.2 265,738.6 266.2,738.2 M268.8,739 C271,737.6 274.5,737.6 276.6,739 M279.3,738.2 C281,738.6 282.6,737.8 283.7,736.5" fill="none" stroke="#222" stroke-width="0.8"/>
<!-- cap 17 -->
<g fill="none" stroke="#8a8a8a" stroke-width="1">
<path d="M319,742.5 C319.5,737 326,731 331,727.8 C335,725.3 338.5,724.3 341.5,722.2 C344,720.2 349,719.5 352.5,722.5 C355.5,725.5 357,731 361.7,739.5 C362,745 352,749 341,749 C330,749 319.5,747 319,742.5 Z" fill="#fff"/>
<path d="M319,742.5 C319.5,750 330,752.5 341,752.5 C352,752.5 362,750 361.8,742.5 M319.3,744.5 C319.8,753 330,756 341,756 C352,756 362,753 361.7,745"/>
<path d="M320,742 C326,746 334,747.5 341,747.5 C349,747.5 356,745.5 361.2,740.5"/>
<path d="M324.8,731.5 C330,729.5 336,730.5 341,733.5 C346,736.5 349.5,739.5 351.5,742.8"/>
<path d="M341.5,722.5 C343,728 346.5,733 352,738 C354.5,740 356,741 357.5,741.5"/>
<path d="M336,729.8 C338.5,733 340,738 340.5,745 M339.3,727.2 C342,731 343.8,736 344.6,742.5"/>
<ellipse cx="329.6" cy="735.6" rx="1.5" ry="2.6"/>
<ellipse cx="346.6" cy="726" rx="1.5" ry="2.2"/>
<ellipse cx="336.8" cy="726.6" rx="1" ry="1.4"/>
</g>
<!-- thermometer -->
<path d="M381,720 V697.5 C381,693.5 388.4,693.5 388.4,697.5 V720" fill="#fff" stroke="#111" stroke-width="1"/>
<rect x="381" y="703" width="7.4" height="19" fill="#111"/>
<circle cx="384.7" cy="727.8" r="7" fill="#111"/>
<path d="M384.7,697 V702 M382.5,699.5 H387" stroke="#111" stroke-width="0.8"/>
<path d="M373.6,705.5 H377 V715.5 H379.5 L375.3,721.3 L371,715.5 H373.6 Z" fill="#fff" stroke="#111" stroke-width="0.9"/>
<!-- ghost handles -->
<g fill="none" stroke="#777" stroke-width="0.9" stroke-dasharray="4 2">
<path d="M415,726 L396,737 C391,740 390,745 393.5,747 C397,749 401,747.5 404,745 L417,733"/>
<path d="M417,732 L404,752 C401,757 402,762 406,762.5 C410,763 413,760 415,756 L421,739"/>
</g>
<!-- handle -->
<circle cx="428.7" cy="720.6" r="13.4" fill="#fff" stroke="#111" stroke-width="1.4"/>
<path d="M422.3,707.8 V760.5 C422.3,764.5 425.5,766.5 429,766.5 C432.5,766.5 435.5,764.5 435.5,760.5 V707.8" fill="#fff" stroke="#111" stroke-width="1.3"/>
<path d="M421.5,708.6 C424,707.5 433,707.5 436.3,708.6" fill="none" stroke="#111" stroke-width="1.2"/>
<path d="M424.8,721 H432 C431.5,723.5 425.3,723.5 424.8,721 Z" fill="#111" stroke="#111" stroke-width="0.8"/>
</g>
</svg>
</body></html>
